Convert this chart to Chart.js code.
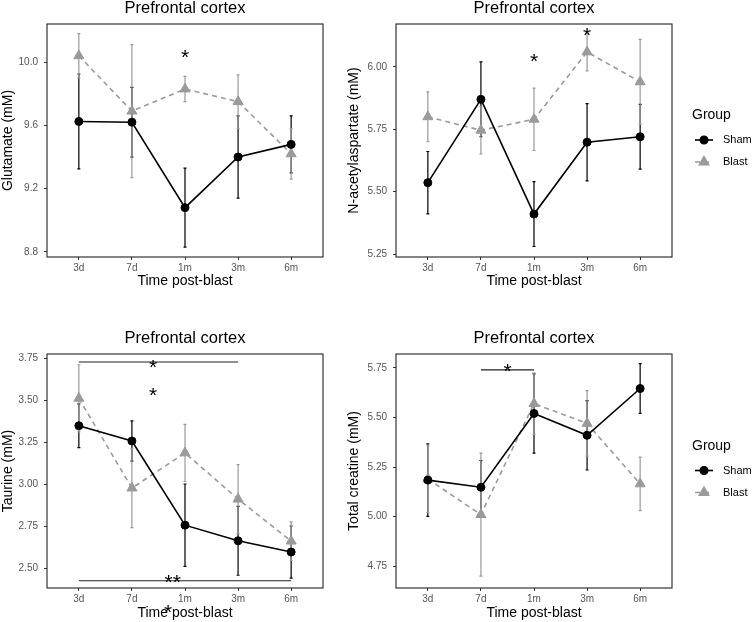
<!DOCTYPE html>
<html>
<head>
<meta charset="utf-8">
<title>Prefrontal cortex metabolites</title>
<script src="https://cdn.jsdelivr.net/npm/chart.js@4.4.0/dist/chart.umd.min.js"></script>
<style>
    body { margin: 0; background: #fff; }
    #page { position: relative; width: 754px; height: 622px; overflow: hidden; }
    .panel { position: absolute; }
</style>
</head>
<body>
<div id="page">
    <div class="panel" style="left:0;top:0;"><canvas id="glutamateChart" width="330" height="290"></canvas></div>
    <div class="panel" style="left:346px;top:0;"><canvas id="naaChart" width="408" height="290"></canvas></div>
    <div class="panel" style="left:0;top:310px;"><canvas id="taurineChart" width="330" height="312"></canvas></div>
    <div class="panel" style="left:346px;top:310px;"><canvas id="creatineChart" width="408" height="312"></canvas></div>
</div>
<script>
// Values (mean and error half-width, mM)
const timePoints = ['3d', '7d', '1m', '3m', '6m'];

const shamGlutamate = [9.625, 9.62, 9.08, 9.40, 9.48];
const shamGlutamateErr = [0.30, 0.22, 0.25, 0.26, 0.18];
const blastGlutamate = [10.04, 9.69, 9.83, 9.75, 9.42];
const blastGlutamateErr = [0.14, 0.42, 0.08, 0.17, 0.16];
const glutamateTicks = [8.8, 9.2, 9.6, 10.0];

const shamNaa = [5.536, 5.87, 5.41, 5.698, 5.72];
const shamNaaErr = [0.125, 0.15, 0.13, 0.155, 0.13];
const blastNaa = [5.80, 5.746, 5.79, 6.06, 5.94];
const blastNaaErr = [0.10, 0.095, 0.125, 0.076, 0.17];
const naaTicks = [5.25, 5.50, 5.75, 6.00];

const shamTaurine = [3.347, 3.256, 2.755, 2.662, 2.595];
const shamTaurineErr = [0.13, 0.12, 0.245, 0.205, 0.155];
const blastTaurine = [3.51, 2.976, 3.185, 2.91, 2.66];
const blastTaurineErr = [0.20, 0.235, 0.17, 0.205, 0.115];
const taurineTicks = [2.50, 2.75, 3.00, 3.25, 3.50, 3.75];

const shamCreatine = [5.184, 5.148, 5.52, 5.41, 5.646];
const shamCreatineErr = [0.183, 0.135, 0.20, 0.175, 0.125];
const blastCreatine = [5.19, 5.01, 5.57, 5.47, 5.165];
const blastCreatineErr = [0.17, 0.31, 0.155, 0.165, 0.135];
const creatineTicks = [4.75, 5.00, 5.25, 5.50, 5.75];

// Significance marks: [from, to, level] brackets and [text, x, level] stars
const glutamateBrackets = [];
const glutamateStars = [['*', 2, 10.065]];
const naaBrackets = [];
const naaStars = [['*', 2, 6.045], ['*', 3, 6.148]];
const taurineBrackets = [[0, 3, 3.726], [0, 4, 2.424]];
const taurineStars = [['*', 1.4, 3.728], ['*', 1.4, 3.56], ['**', 1.77, 2.445], ['*', 1.68, 2.265]];
const creatineBrackets = [[1, 2, 5.74]];
const creatineStars = [['*', 1.5, 5.758]];

const FONT = "'Liberation Sans', Arial, sans-serif";
Chart.defaults.font.family = FONT;
const SHAM_COLOR = '#000000';
const BLAST_COLOR = '#9a9a9a';

// Plugin for error bars, the panel box, significance marks and the legend
const panelExtras = {
    id: 'panelExtras',
    beforeDatasetsDraw(chart) {
        const ctx = chart.ctx;
        const yScale = chart.scales.y;
        chart.data.datasets.forEach((ds, di) => {
            const meta = chart.getDatasetMeta(di);
            ctx.save();
            ctx.strokeStyle = ds.borderColor;
            ctx.lineWidth = 1.2;
            ds.data.forEach((pt, j) => {
                const px = meta.data[j].x;
                const top = yScale.getPixelForValue(pt.y + ds.errors[j]);
                const bot = yScale.getPixelForValue(pt.y - ds.errors[j]);
                ctx.beginPath();
                ctx.moveTo(px, top);
                ctx.lineTo(px, bot);
                ctx.moveTo(px - 1.5, top);
                ctx.lineTo(px + 1.5, top);
                ctx.moveTo(px - 1.5, bot);
                ctx.lineTo(px + 1.5, bot);
                ctx.stroke();
            });
            ctx.restore();
        });
    },
    afterDraw(chart) {
        const ctx = chart.ctx;
        const area = chart.chartArea;
        const xScale = chart.scales.x;
        const yScale = chart.scales.y;
        const cfg = chart.config.options.extras;

        ctx.save();
        // panel border
        ctx.strokeStyle = '#222';
        ctx.lineWidth = 1.1;
        ctx.strokeRect(area.left, area.top, area.width, area.height);

        // brackets
        ctx.strokeStyle = '#222';
        ctx.lineWidth = 1.1;
        cfg.brackets.forEach(b => {
            const y = yScale.getPixelForValue(b[2]);
            ctx.beginPath();
            ctx.moveTo(xScale.getPixelForValue(b[0]), y);
            ctx.lineTo(xScale.getPixelForValue(b[1]), y);
            ctx.stroke();
        });

        // stars
        ctx.fillStyle = '#000';
        ctx.font = '21px ' + FONT;
        ctx.textAlign = 'center';
        ctx.textBaseline = 'alphabetic';
        cfg.stars.forEach(s => {
            const y = yScale.getPixelForValue(s[2]);
            ctx.fillText(s[0], xScale.getPixelForValue(s[1]), y + 21 * 0.57);
        });

        // legend to the right of the panel
        if (cfg.legend) {
            const cy = (area.top + area.bottom) / 2;
            const lx = area.right + 20;
            ctx.textAlign = 'left';
            ctx.textBaseline = 'middle';
            ctx.font = '14px ' + FONT;
            ctx.fillText('Group', lx, cy - 25);

            chart.data.datasets.forEach((ds, i) => {
                const ky = cy - 0.5 + i * 22;
                ctx.save();
                ctx.strokeStyle = ds.borderColor;
                ctx.lineWidth = ds.borderWidth;
                ctx.setLineDash(ds.borderDash || []);
                ctx.beginPath();
                ctx.moveTo(area.right + 23, ky);
                ctx.lineTo(area.right + 41, ky);
                ctx.stroke();
                ctx.restore();
                ctx.fillStyle = ds.pointBackgroundColor;
                ctx.strokeStyle = ds.pointBorderColor;
                Chart.helpers.drawPoint(ctx, {
                    pointStyle: ds.pointStyle,
                    radius: ds.pointRadius,
                    rotation: 0,
                    borderWidth: 1
                }, area.right + 32, ky);
                ctx.fillStyle = '#000';
                ctx.font = '11px ' + FONT;
                ctx.fillText(ds.label, area.right + 51, ky);
            });
        }
        ctx.restore();
    }
};

// Function to build the two series of a panel
function makeDatasets(sham, shamErr, blast, blastErr) {
    return [
        {
            label: 'Sham',
            data: sham.map((v, i) => ({ x: i, y: v })),
            errors: shamErr,
            borderColor: SHAM_COLOR,
            borderWidth: 1.6,
            pointStyle: 'circle',
            pointRadius: 4,
            pointBorderWidth: 1,
            pointBackgroundColor: SHAM_COLOR,
            pointBorderColor: SHAM_COLOR,
            tension: 0
        },
        {
            label: 'Blast',
            data: blast.map((v, i) => ({ x: i, y: v })),
            errors: blastErr,
            borderColor: BLAST_COLOR,
            borderWidth: 1.6,
            borderDash: [5, 4],
            pointStyle: 'triangle',
            pointRadius: 5.8,
            pointBorderWidth: 1,
            pointBackgroundColor: BLAST_COLOR,
            pointBorderColor: BLAST_COLOR,
            tension: 0
        }
    ];
}

// Function to create one panel
function createPanel(id, p) {
    new Chart(document.getElementById(id), {
        type: 'line',
        data: { datasets: p.datasets },
        options: {
            responsive: false,
            animation: false,
            extras: { brackets: p.brackets, stars: p.stars, legend: p.legend },
            layout: { padding: p.padding },
            plugins: {
                legend: { display: false },
                tooltip: { enabled: false },
                title: {
                    display: true,
                    text: 'Prefrontal cortex',
                    color: '#000',
                    fullSize: false,
                    font: { size: 16.5, weight: 'normal', lineHeight: 1 },
                    padding: { top: 0, bottom: 7.5 }
                }
            },
            scales: {
                x: {
                    type: 'linear',
                    min: -0.6,
                    max: 4.6,
                    afterFit: s => { s.height = p.xHeight; },
                    afterBuildTicks: s => { s.ticks = timePoints.map((t, i) => ({ value: i })); },
                    ticks: {
                        callback: v => timePoints[v],
                        color: '#555',
                        font: { size: 10 },
                        padding: 2,
                        maxRotation: 0,
                        autoSkip: false
                    },
                    grid: { drawOnChartArea: false, tickLength: 3, tickColor: '#333' },
                    border: { display: false },
                    title: {
                        display: true,
                        text: 'Time post-blast',
                        color: '#000',
                        font: { size: 14 },
                        padding: { top: 0, bottom: 0 }
                    }
                },
                y: {
                    type: 'linear',
                    min: p.yMin,
                    max: p.yMax,
                    afterFit: s => { s.width = p.yWidth; },
                    afterBuildTicks: s => { s.ticks = p.ticks.map(v => ({ value: v })); },
                    ticks: {
                        callback: v => v.toFixed(p.decimals),
                        color: '#555',
                        font: { size: 10 },
                        padding: 6
                    },
                    grid: { drawOnChartArea: false, tickLength: 3, tickColor: '#333' },
                    border: { display: false },
                    title: {
                        display: true,
                        text: p.yTitle,
                        color: '#000',
                        font: { size: 14 },
                        padding: { top: 0, bottom: 0 }
                    }
                }
            }
        },
        plugins: [panelExtras]
    });
}

createPanel('glutamateChart', {
    datasets: makeDatasets(shamGlutamate, shamGlutamateErr, blastGlutamate, blastGlutamateErr),
    ticks: glutamateTicks, decimals: 1, yMin: 8.768, yMax: 10.241,
    yTitle: 'Glutamate (mM)', brackets: glutamateBrackets, stars: glutamateStars, legend: false,
    yWidth: 47, xHeight: 33, padding: { top: 0, right: 7, bottom: 0, left: 0 }
});

createPanel('naaChart', {
    datasets: makeDatasets(shamNaa, shamNaaErr, blastNaa, blastNaaErr),
    ticks: naaTicks, decimals: 2, yMin: 5.238, yMax: 6.172,
    yTitle: 'N-acetylaspartate (mM)', brackets: naaBrackets, stars: naaStars, legend: true,
    yWidth: 50, xHeight: 33, padding: { top: 0, right: 82, bottom: 0, left: 0 }
});

createPanel('taurineChart', {
    datasets: makeDatasets(shamTaurine, shamTaurineErr, blastTaurine, blastTaurineErr),
    ticks: taurineTicks, decimals: 2, yMin: 2.381, yMax: 3.774,
    yTitle: 'Taurine (mM)', brackets: taurineBrackets, stars: taurineStars, legend: false,
    yWidth: 47, xHeight: 34, padding: { top: 20, right: 7, bottom: 0, left: 0 }
});

createPanel('creatineChart', {
    datasets: makeDatasets(shamCreatine, shamCreatineErr, blastCreatine, blastCreatineErr),
    ticks: creatineTicks, decimals: 2, yMin: 4.64, yMax: 5.82,
    yTitle: 'Total creatine (mM)', brackets: creatineBrackets, stars: creatineStars, legend: true,
    yWidth: 50, xHeight: 34, padding: { top: 20, right: 82, bottom: 0, left: 0 }
});
</script>
</body>
</html>
